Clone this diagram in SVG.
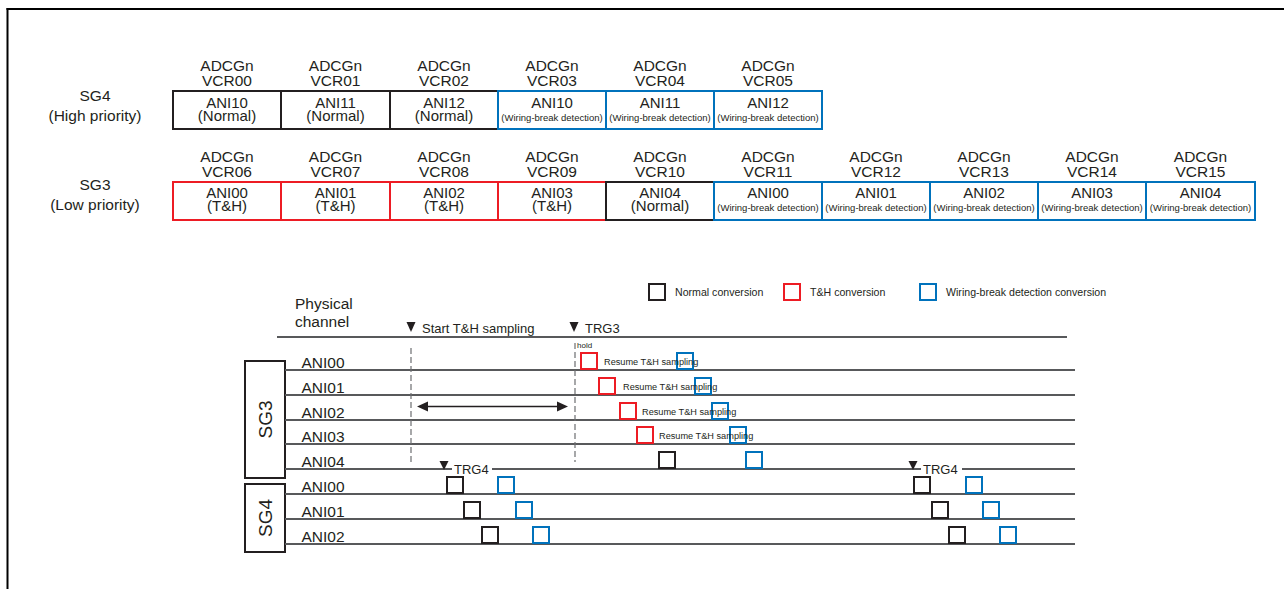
<svg xmlns="http://www.w3.org/2000/svg" width="1284" height="589" viewBox="0 0 1284 589">
<style>
text { font-family: "Liberation Sans", Arial, Helvetica, sans-serif; fill: #231f20; }
.hdr { font-size: 15.5px; text-anchor: middle; }
.cell { font-size: 15px; text-anchor: middle; }
.small { font-size: 9.5px; text-anchor: middle; }
.side { font-size: 15.5px; text-anchor: middle; }
.nb { fill: #fff; stroke: #231f20; stroke-width: 2; }
.rb { fill: #fff; stroke: #ed1c24; stroke-width: 2; }
.bb { fill: #fff; stroke: #0072bc; stroke-width: 2; }
.sqn { fill: none; stroke: #231f20; stroke-width: 2; }
.sqr { fill: none; stroke: #ed1c24; stroke-width: 2; }
.sqb { fill: none; stroke: #0072bc; stroke-width: 2; }
.leg { font-size: 10.6px; }
.row { stroke: #58595b; stroke-width: 2; fill: none; }
.dash { stroke: #6d6e71; stroke-width: 1.2; stroke-dasharray: 6 3; fill: none; }
.lbl { font-size: 15.5px; }
.res { font-size: 9.2px; }
.trg { font-size: 13px; }
.tri { fill: #231f20; }
.grp { fill: #fff; stroke: #231f20; stroke-width: 2; }
.grpt { font-size: 19px; text-anchor: middle; }
</style>

<!-- frame -->
<g id="frame">
<line x1="6.5" y1="9" x2="1284" y2="9" stroke="#000" stroke-width="2"/>
<line x1="7.5" y1="8" x2="7.5" y2="589" stroke="#000" stroke-width="2"/>
</g>

<!-- SG4 table -->
<g id="sg4-label">
<text class="side" x="95" y="101">SG4</text>
<text class="side" x="95" y="120.5">(High priority)</text>
</g>
<g id="sg4-vcr00"><text class="hdr" x="227" y="70.5">ADCGn</text><text class="hdr" x="227" y="85.5">VCR00</text>
<rect class="nb" x="173" y="91" width="108" height="38"/><text class="cell" x="227" y="108">ANI10</text><text class="cell" x="227" y="120.5">(Normal)</text></g>
<g id="sg4-vcr01"><text class="hdr" x="335.5" y="70.5">ADCGn</text><text class="hdr" x="335.5" y="85.5">VCR01</text>
<rect class="nb" x="281" y="91" width="109" height="38"/><text class="cell" x="335.5" y="108">ANI11</text><text class="cell" x="335.5" y="120.5">(Normal)</text></g>
<g id="sg4-vcr02"><text class="hdr" x="444" y="70.5">ADCGn</text><text class="hdr" x="444" y="85.5">VCR02</text>
<rect class="nb" x="390" y="91" width="108" height="38"/><text class="cell" x="444" y="108">ANI12</text><text class="cell" x="444" y="120.5">(Normal)</text></g>
<g id="sg4-vcr03"><text class="hdr" x="552" y="70.5">ADCGn</text><text class="hdr" x="552" y="85.5">VCR03</text>
<rect class="bb" x="498" y="91" width="108" height="38"/><text class="cell" x="552" y="108">ANI10</text><text class="small" x="552" y="120.5">(Wiring-break detection)</text></g>
<g id="sg4-vcr04"><text class="hdr" x="660" y="70.5">ADCGn</text><text class="hdr" x="660" y="85.5">VCR04</text>
<rect class="bb" x="606" y="91" width="108" height="38"/><text class="cell" x="660" y="108">ANI11</text><text class="small" x="660" y="120.5">(Wiring-break detection)</text></g>
<g id="sg4-vcr05"><text class="hdr" x="768" y="70.5">ADCGn</text><text class="hdr" x="768" y="85.5">VCR05</text>
<rect class="bb" x="714" y="91" width="108" height="38"/><text class="cell" x="768" y="108">ANI12</text><text class="small" x="768" y="120.5">(Wiring-break detection)</text></g>

<!-- SG3 table -->
<g id="sg3-label">
<text class="side" x="95" y="190">SG3</text>
<text class="side" x="95" y="210">(Low priority)</text>
</g>
<g id="sg3-vcr06"><text class="hdr" x="227" y="161.5">ADCGn</text><text class="hdr" x="227" y="176.5">VCR06</text>
<rect class="rb" x="173" y="182" width="108" height="38"/><text class="cell" x="227" y="198">ANI00</text><text class="cell" x="227" y="210.5">(T&amp;H)</text></g>
<g id="sg3-vcr07"><text class="hdr" x="335.5" y="161.5">ADCGn</text><text class="hdr" x="335.5" y="176.5">VCR07</text>
<rect class="rb" x="281" y="182" width="109" height="38"/><text class="cell" x="335.5" y="198">ANI01</text><text class="cell" x="335.5" y="210.5">(T&amp;H)</text></g>
<g id="sg3-vcr08"><text class="hdr" x="444" y="161.5">ADCGn</text><text class="hdr" x="444" y="176.5">VCR08</text>
<rect class="rb" x="390" y="182" width="108" height="38"/><text class="cell" x="444" y="198">ANI02</text><text class="cell" x="444" y="210.5">(T&amp;H)</text></g>
<g id="sg3-vcr09"><text class="hdr" x="552" y="161.5">ADCGn</text><text class="hdr" x="552" y="176.5">VCR09</text>
<rect class="rb" x="498" y="182" width="108" height="38"/><text class="cell" x="552" y="198">ANI03</text><text class="cell" x="552" y="210.5">(T&amp;H)</text></g>
<g id="sg3-vcr10"><text class="hdr" x="660" y="161.5">ADCGn</text><text class="hdr" x="660" y="176.5">VCR10</text>
<rect class="nb" x="606" y="182" width="108" height="38"/><text class="cell" x="660" y="198">ANI04</text><text class="cell" x="660" y="210.5">(Normal)</text></g>
<g id="sg3-vcr11"><text class="hdr" x="768" y="161.5">ADCGn</text><text class="hdr" x="768" y="176.5">VCR11</text>
<rect class="bb" x="714" y="182" width="108" height="38"/><text class="cell" x="768" y="198">ANI00</text><text class="small" x="768" y="211">(Wiring-break detection)</text></g>
<g id="sg3-vcr12"><text class="hdr" x="876" y="161.5">ADCGn</text><text class="hdr" x="876" y="176.5">VCR12</text>
<rect class="bb" x="822" y="182" width="108" height="38"/><text class="cell" x="876" y="198">ANI01</text><text class="small" x="876" y="211">(Wiring-break detection)</text></g>
<g id="sg3-vcr13"><text class="hdr" x="984" y="161.5">ADCGn</text><text class="hdr" x="984" y="176.5">VCR13</text>
<rect class="bb" x="930" y="182" width="108" height="38"/><text class="cell" x="984" y="198">ANI02</text><text class="small" x="984" y="211">(Wiring-break detection)</text></g>
<g id="sg3-vcr14"><text class="hdr" x="1092" y="161.5">ADCGn</text><text class="hdr" x="1092" y="176.5">VCR14</text>
<rect class="bb" x="1038" y="182" width="108" height="38"/><text class="cell" x="1092" y="198">ANI03</text><text class="small" x="1092" y="211">(Wiring-break detection)</text></g>
<g id="sg3-vcr15"><text class="hdr" x="1200.5" y="161.5">ADCGn</text><text class="hdr" x="1200.5" y="176.5">VCR15</text>
<rect class="bb" x="1146" y="182" width="109" height="38"/><text class="cell" x="1200.5" y="198">ANI04</text><text class="small" x="1200.5" y="211">(Wiring-break detection)</text></g>

<!-- legend -->
<g id="legend">
<rect class="sqn" x="649" y="284" width="16" height="16"/><text class="leg" x="675" y="295.5">Normal conversion</text>
<rect class="sqr" x="784" y="284" width="16" height="16"/><text class="leg" x="810" y="295.5">T&amp;H conversion</text>
<rect class="sqb" x="920" y="284" width="16" height="16"/><text class="leg" x="946" y="295.5">Wiring-break detection conversion</text>
</g>

<!-- timing chart header -->
<g id="timing-header">
<text class="lbl" x="295" y="308.5">Physical</text>
<text class="lbl" x="295" y="327">channel</text>
<line class="row" x1="277" y1="337" x2="1067" y2="337"/>
<polygon class="tri" points="406.5,322 415.5,322 411,332"/>
<text class="trg" x="422" y="332.5">Start T&amp;H sampling</text>
<polygon class="tri" points="569.5,322 578.5,322 574,332"/>
<text class="trg" x="585" y="332.5">TRG3</text>
<text x="577" y="348" style="font-size:8px">hold</text>
</g>

<!-- group boxes -->
<g id="sg3-box"><rect class="grp" x="245" y="361" width="40" height="117"/>
<text class="grpt" transform="translate(272,419.5) rotate(-90)">SG3</text></g>
<g id="sg4-box"><rect class="grp" x="245" y="484" width="40" height="68"/>
<text class="grpt" transform="translate(272,518) rotate(-90)">SG4</text></g>

<!-- connectors: channel lines, dashed markers, arrow -->
<g id="connectors">
<line class="row" x1="285" y1="370" x2="1075" y2="370"/>
<line class="row" x1="285" y1="395" x2="1075" y2="395"/>
<line class="row" x1="285" y1="420" x2="1075" y2="420"/>
<line class="row" x1="285" y1="444" x2="1075" y2="444"/>
<line class="row" x1="285" y1="469" x2="1075" y2="469"/>
<line class="row" x1="285" y1="494" x2="1075" y2="494"/>
<line class="row" x1="285" y1="519" x2="1075" y2="519"/>
<line class="row" x1="285" y1="544" x2="1075" y2="544"/>
<line class="dash" x1="411" y1="348" x2="411" y2="462"/>
<line class="dash" x1="575" y1="343" x2="575" y2="462"/>
<line x1="426" y1="406.5" x2="558" y2="406.5" stroke="#231f20" stroke-width="1.5"/>
<polygon class="tri" points="417,406.5 428,401.5 428,411.5"/>
<polygon class="tri" points="568,406.5 557,401.5 557,411.5"/>
</g>

<!-- channel labels -->
<g id="channels">
<text class="lbl" x="301.5" y="367.5">ANI00</text>
<text class="lbl" x="301.5" y="392.5">ANI01</text>
<text class="lbl" x="301.5" y="417.5">ANI02</text>
<text class="lbl" x="301.5" y="442">ANI03</text>
<text class="lbl" x="301.5" y="467">ANI04</text>
<text class="lbl" x="301.5" y="491.5">ANI00</text>
<text class="lbl" x="301.5" y="516.5">ANI01</text>
<text class="lbl" x="301.5" y="541.5">ANI02</text>
</g>

<!-- TRG4 markers -->
<g id="trg4-a">
<rect x="452" y="462" width="40" height="12" fill="#fff"/>
<polygon class="tri" points="439.5,461 448.5,461 444,470"/>
<text class="trg" x="454" y="473.5">TRG4</text>
</g>
<g id="trg4-b">
<rect x="921" y="462" width="41" height="12" fill="#fff"/>
<polygon class="tri" points="908.5,461 917.5,461 913,470"/>
<text class="trg" x="923" y="473.5">TRG4</text>
</g>

<!-- SG3 conversions -->
<g id="sg3-conv">
<rect class="sqr" x="581" y="353" width="16" height="16"/>
<rect class="sqb" x="677" y="353" width="16" height="16"/>
<text class="res" x="604" y="364.5">Resume T&amp;H sampling</text>
<rect class="sqr" x="599" y="378" width="16" height="16"/>
<rect class="sqb" x="695" y="378" width="16" height="16"/>
<text class="res" x="623" y="389.5">Resume T&amp;H sampling</text>
<rect class="sqr" x="620" y="403" width="16" height="16"/>
<rect class="sqb" x="712" y="403" width="16" height="16"/>
<text class="res" x="642" y="414.5">Resume T&amp;H sampling</text>
<rect class="sqr" x="637" y="427" width="16" height="16"/>
<rect class="sqb" x="730" y="427" width="16" height="16"/>
<text class="res" x="659" y="439">Resume T&amp;H sampling</text>
<rect class="sqn" x="659" y="452" width="16" height="16"/>
<rect class="sqb" x="746" y="452" width="16" height="16"/>
</g>

<!-- SG4 conversions -->
<g id="sg4-conv">
<rect class="sqn" x="447" y="477" width="16" height="16"/>
<rect class="sqb" x="498" y="477" width="16" height="16"/>
<rect class="sqn" x="464" y="502" width="16" height="16"/>
<rect class="sqb" x="516" y="502" width="16" height="16"/>
<rect class="sqn" x="482" y="527" width="16" height="16"/>
<rect class="sqb" x="533" y="527" width="16" height="16"/>
<rect class="sqn" x="914" y="477" width="16" height="16"/>
<rect class="sqb" x="966" y="477" width="16" height="16"/>
<rect class="sqn" x="932" y="502" width="16" height="16"/>
<rect class="sqb" x="983" y="502" width="16" height="16"/>
<rect class="sqn" x="949" y="527" width="16" height="16"/>
<rect class="sqb" x="1000" y="527" width="16" height="16"/>
</g>
</svg>
